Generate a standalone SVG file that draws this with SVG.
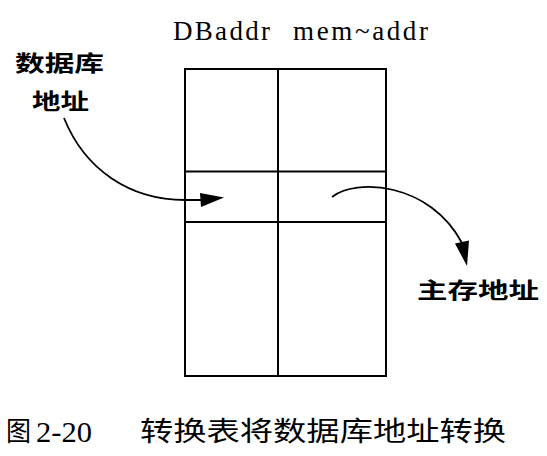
<svg xmlns="http://www.w3.org/2000/svg" width="547" height="456" viewBox="0 0 547 456">
<style>
.grid{fill:none;stroke:#000;stroke-width:2}
.conn{fill:none;stroke:#000;stroke-width:1.8}
.head{fill:#000;stroke:none}
.hdr{font-family:"Liberation Serif","Times New Roman",serif;font-size:27px;fill:#000}
.lbl{font-family:"Noto Sans CJK SC","Noto Sans",sans-serif;font-weight:bold;font-size:22px;fill:#000}
.cap{font-family:"Noto Sans CJK SC","Noto Sans",sans-serif;font-weight:normal;font-size:27px;fill:#000}
.capn{font-family:"Liberation Serif","Times New Roman",serif;font-size:29px;fill:#000}
</style>
<rect width="547" height="456" fill="#fff"/>
<g id="table">
<rect class="grid" x="185" y="69" width="201" height="307"/>
<line class="grid" x1="278" y1="69" x2="278" y2="376"/>
<line class="grid" x1="185" y1="171.5" x2="386" y2="171.5"/>
<line class="grid" x1="185" y1="222" x2="386" y2="222"/>
<text class="hdr" x="173" y="40" textLength="97" lengthAdjust="spacing">DBaddr</text>
<text class="hdr" x="293" y="40" textLength="135" lengthAdjust="spacing">mem~addr</text>
</g>
<g id="db-addr">
<text class="lbl" x="15" y="70.5" textLength="89" lengthAdjust="spacingAndGlyphs">数据库</text>
<text class="lbl" x="32" y="108.5" textLength="57" lengthAdjust="spacingAndGlyphs">地址</text>
</g>
<g id="mem-addr">
<text class="lbl" x="417" y="298" textLength="122" lengthAdjust="spacingAndGlyphs">主存地址</text>
</g>
<g id="connectors">
<path class="conn" d="M64,118 C85,170 130,200 185,200 L204,200"/>
<polygon class="head" points="200,193 224,197.5 201,207"/>
<path class="conn" d="M332,197 C355,178 430,182 462,243"/>
<polygon class="head" points="455,243.5 469,240.5 467,266"/>
</g>
<g id="caption">
<text class="cap" x="6" y="441" textLength="25" lengthAdjust="spacingAndGlyphs">图</text>
<text class="capn" x="36" y="442" textLength="56" lengthAdjust="spacingAndGlyphs">2-20</text>
<text class="cap" x="140" y="441" textLength="366" lengthAdjust="spacingAndGlyphs">转换表将数据库地址转换</text>
</g>
</svg>
